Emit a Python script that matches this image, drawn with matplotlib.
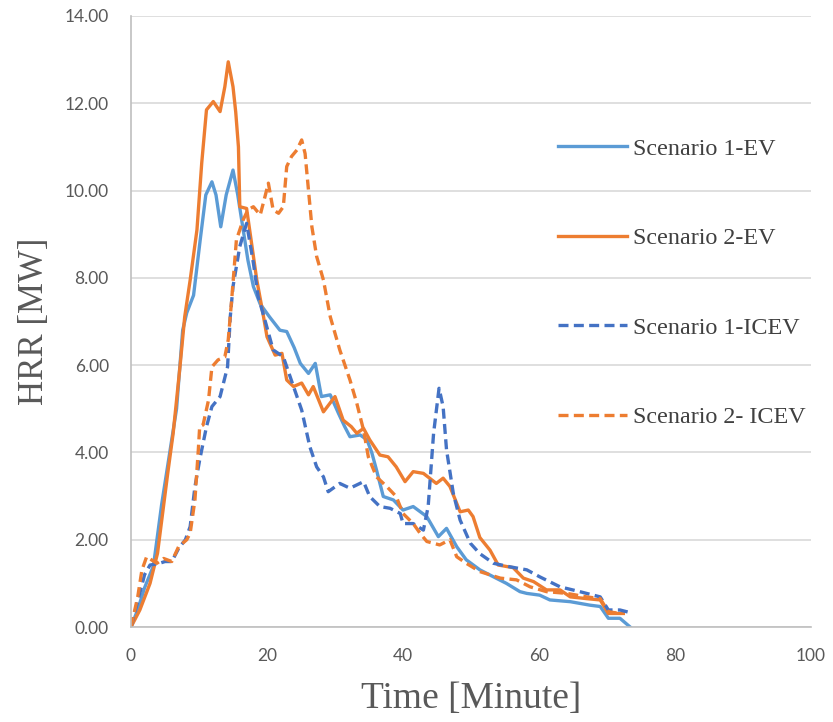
import matplotlib
matplotlib.use("Agg")
import matplotlib.pyplot as plt

# ---- data (time in minutes, HRR in MW) ----
t_s1ev = [0, 1, 2, 3.3, 4.5, 5.7, 6.7, 7.6, 8.2, 9.2, 10.2, 11.0, 11.9, 12.5, 13.2, 14.0, 15.0, 15.7, 16.5, 17.2, 18.0, 19.0, 20.4, 21.9, 22.9,
          24.0, 24.9, 26.1, 27.1, 28.0, 29.3, 30.5, 31.4, 32.2, 33.7, 34.7, 35.4, 36.1, 37.1, 38.6, 40.0, 41.5, 43.5, 45.2, 46.4, 47.9,
          49.3, 51.3, 53.3, 55.2, 57.2, 58.2, 60.1, 61.6, 64.6, 67.5, 69.0, 70.2, 71.9, 73.4]
v_s1ev = [0, 0.4, 0.9, 1.4, 2.8, 4.0, 5.0, 6.8, 7.2, 7.6, 8.9, 9.9, 10.2, 9.9, 9.17, 9.9, 10.47, 9.9, 9.1, 8.4, 7.8, 7.4, 7.1, 6.8, 6.77,
          6.4, 6.04, 5.81, 6.04, 5.28, 5.32, 4.9, 4.6, 4.36, 4.4, 4.29, 4.0, 3.6, 2.99, 2.91, 2.68, 2.76, 2.53, 2.07, 2.26, 1.84,
          1.54, 1.31, 1.15, 1.0, 0.81, 0.77, 0.73, 0.62, 0.58, 0.50, 0.47, 0.2, 0.2, 0.0]

t_s2ev = [0, 1.3, 2.8, 3.9, 5.4, 6.2, 7.2, 7.9, 8.7, 9.7, 10.4, 11.1, 12.1, 13.1, 13.8, 14.3, 15.0, 15.4, 15.8, 16.0, 17.0, 18.5, 19.4, 20.0,
          21.2, 22.2, 22.9, 23.9, 25.1, 26.1, 26.8, 28.3, 30.0, 31.2, 32.4, 33.2, 34.2, 35.1, 36.6, 37.8, 39.0, 40.3, 41.5, 43.0, 44.9,
          45.9, 46.9, 48.4, 49.6, 50.3, 51.3, 52.8, 54.0, 56.2, 57.7, 59.2, 61.1, 63.1, 64.6, 67.0, 69.0, 70.2, 72.4]
v_s2ev = [0, 0.39, 1.0, 1.69, 3.52, 4.44, 5.96, 7.11, 7.95, 9.1, 10.63, 11.85, 12.04, 11.81, 12.38, 12.95, 12.38, 11.8, 11.0, 9.63, 9.59, 7.95, 7.19, 6.65,
          6.23, 6.27, 5.66, 5.51, 5.59, 5.32, 5.51, 4.93, 5.28, 4.74, 4.59, 4.44, 4.55, 4.29, 3.94, 3.90, 3.67, 3.33, 3.56, 3.52, 3.29,
          3.41, 3.22, 2.64, 2.68, 2.53, 2.05, 1.76, 1.42, 1.36, 1.12, 1.04, 0.85, 0.85, 0.69, 0.65, 0.62, 0.31, 0.31]

t_s1ic = [0, 1.0, 2.0, 2.8, 4.0, 5.0, 6.0, 7.0, 8.0, 8.7, 9.4, 10.1, 11.1, 11.9, 13.1, 14.2, 14.6, 15.0, 16.0, 17.0, 18.0, 18.7, 19.7,
          20.9, 22.4, 23.9, 25.1, 26.3, 27.3, 28.3, 29.0, 30.7, 32.2, 34.2, 35.1, 36.6, 38.1, 39.6, 40.0, 41.5, 43.0, 43.7, 44.5,
          45.3, 45.9, 46.4, 47.4, 48.4, 49.9, 51.3, 53.3, 55.7, 58.2, 60.1, 63.1, 66.0, 69.0, 70.2, 71.9, 73.4]
v_s1ic = [0, 0.6, 1.2, 1.42, 1.45, 1.5, 1.5, 1.8, 2.0, 2.3, 3.21, 3.83, 4.59, 5.05, 5.28, 5.96, 7.11, 7.8, 8.72, 9.25, 8.34, 7.57, 7.03,
          6.35, 6.19, 5.51, 4.97, 4.13, 3.67, 3.44, 3.10, 3.29, 3.18, 3.33, 2.99, 2.76, 2.72, 2.60, 2.37, 2.37, 2.22, 2.76, 4.44,
          5.47, 5.05, 4.06, 3.06, 2.45, 1.92, 1.68, 1.46, 1.38, 1.31, 1.15, 0.92, 0.81, 0.69, 0.39, 0.39, 0.33]

t_s2ic = [0, 1.0, 1.6, 2.3, 3.8, 4.8, 6.0, 7.0, 8.2, 8.7, 9.4, 9.9, 10.1, 10.6, 11.4, 11.9, 12.8, 13.8, 14.3, 14.8, 15.5, 16.5, 17.2, 18.0,
          19.0, 19.7, 20.2, 20.9, 21.7, 22.4, 22.9, 23.6, 24.4, 25.1, 25.6, 26.1, 26.6, 27.3, 28.3, 29.3, 30.7, 32.2, 33.2, 34.2,
          34.9, 36.1, 37.6, 39.0, 40.0, 41.5, 42.5, 43.5, 45.4, 46.9, 47.9, 49.3, 51.3, 54.3, 56.7, 58.7, 61.1, 64.1, 67.0, 69.0, 70.2, 71.9]
v_s2ic = [0, 0.7, 1.3, 1.61, 1.46, 1.57, 1.50, 1.84, 2.0, 2.15, 2.91, 4.06, 4.59, 4.63, 5.2, 5.96, 6.12, 6.19, 6.58, 7.49, 8.87, 9.33, 9.56, 9.63,
          9.44, 9.86, 10.17, 9.56, 9.48, 9.63, 10.55, 10.78, 10.93, 11.16, 10.85, 10.01, 9.17, 8.49, 7.95, 7.11, 6.35, 5.66, 5.13, 4.51,
          3.9, 3.44, 3.22, 2.99, 2.6, 2.37, 2.15, 1.96, 1.88, 2.0, 1.61, 1.46, 1.27, 1.12, 1.08, 0.92, 0.81, 0.77, 0.69, 0.65, 0.35, 0.31]

labels = ["Scenario 1-EV", "Scenario 2-EV", "Scenario 1-ICEV", "Scenario 2- ICEV"]
x_ticks = [0, 20, 40, 60, 80, 100]
y_ticks = [0, 2, 4, 6, 8, 10, 12, 14]

plt.rcParams['font.family'] = ['Liberation Serif', 'DejaVu Serif']

fig = plt.figure(figsize=(8.33, 7.22), dpi=100)
ax = fig.add_axes([131/833, 95/722, 680/833, 611/722])

lw = 2.4
ax.plot(t_s1ev, v_s1ev, color='#5B9BD5', lw=lw, label=labels[0], solid_joinstyle='round')
ax.plot(t_s2ev, v_s2ev, color='#ED7D31', lw=lw, label=labels[1], solid_joinstyle='round')
ax.plot(t_s1ic, v_s1ic, color='#4472C4', lw=lw, ls=(0, (3, 1.6)), label=labels[2])
ax.plot(t_s2ic, v_s2ic, color='#ED7D31', lw=lw, ls=(0, (3, 1.6)), label=labels[3])

ax.set_xlim(0, 100)
ax.set_ylim(0, 14)
ax.set_xticks(x_ticks)
ax.set_yticks(y_ticks)
ax.set_yticklabels([f"{v:.2f}" for v in y_ticks])
ax.tick_params(length=0, labelsize=12.5, colors='#595959')
ax.tick_params(axis='x', pad=15)
ax.tick_params(axis='y', pad=16)
for lab in ax.get_xticklabels() + ax.get_yticklabels():
    lab.set_family(['Lato', 'DejaVu Sans'])
ax.grid(axis='y', color='#D9D9D9', lw=1.2)
ax.set_axisbelow(True)
for s in ['top', 'right']:
    ax.spines[s].set_visible(False)
for s in ['left', 'bottom']:
    ax.spines[s].set_color('#BFBFBF')
    ax.spines[s].set_linewidth(1.2)

ax.set_xlabel("Time [Minute]", fontsize=27, color='#595959', labelpad=13)
ax.set_ylabel("HRR [MW]", fontsize=25, color='#595959', labelpad=10)

leg = ax.legend(loc='upper left', bbox_to_anchor=(536/833, 1 - 116/722), bbox_transform=fig.transFigure,
                frameon=False, fontsize=17.4, handlelength=2.85, handletextpad=0.25, labelspacing=2.8,
                labelcolor='#404040')

fig.savefig("out.png", dpi=100)
